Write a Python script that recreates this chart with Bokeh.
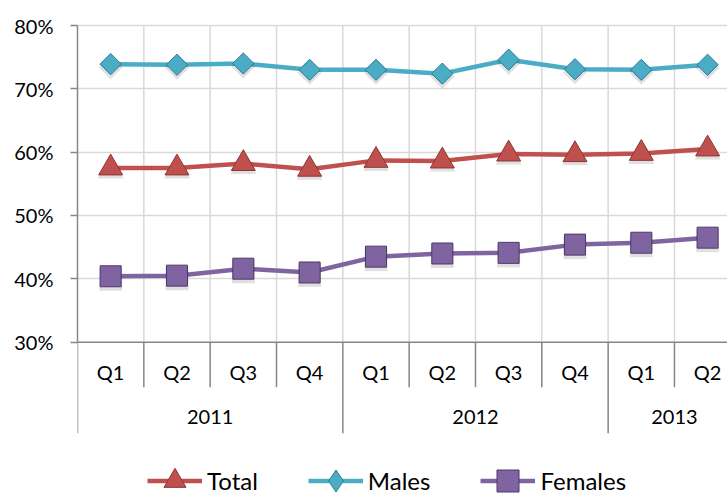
import numpy as np
from bokeh.plotting import figure
from bokeh.models import (Range1d, FixedTicker, PrintfTickFormatter, Span,
                          Legend, LegendItem, ColumnDataSource)
from bokeh.core.properties import value
from bokeh.embed import file_html
from bokeh.resources import INLINE

# ---------------- data ----------------
quarters = ["Q1", "Q2", "Q3", "Q4", "Q1", "Q2", "Q3", "Q4", "Q1", "Q2"]
years = ["2011", "2011", "2011", "2011", "2012", "2012", "2012", "2012", "2013", "2013"]
total = [57.5, 57.5, 58.2, 57.3, 58.7, 58.6, 59.7, 59.6, 59.8, 60.5]
males = [73.9, 73.8, 74.0, 73.0, 73.0, 72.4, 74.6, 73.1, 73.0, 73.8]
females = [40.4, 40.5, 41.6, 41.0, 43.5, 44.0, 44.1, 45.4, 45.7, 46.5]
y_ticks = [30, 40, 50, 60, 70, 80]

# ---------------- layout constants ----------------
W, H = 727, 496
LEFT = 77
PX_Y = 6.333          # pixels per percentage point
PX_X = 66.33          # pixels per category
TOP_GAP = 25          # pixels from top of frame to the 80% line
y_hi = y_ticks[-1] + TOP_GAP / PX_Y
y_lo = y_ticks[-1] - (H - TOP_GAP) / PX_Y
x_hi = (W - LEFT) / PX_X
base = y_ticks[0]


def below(px):
    return base - px / PX_Y


n = len(quarters)
xs = np.arange(n) + 0.5

FONT = "Lato"
AXIS_COL = "#868686"
GRID_COL = "#d9d9d9"

p = figure(width=W, height=H, output_backend="svg", toolbar_location=None,
           x_range=Range1d(0, x_hi), y_range=Range1d(y_lo, y_hi),
           x_axis_location=None, min_border_left=LEFT, min_border_right=0,
           min_border_top=0, min_border_bottom=0)
p.outline_line_color = None
p.background_fill_color = "white"
p.border_fill_color = "white"
p.xgrid.visible = False

# y axis
ax = p.yaxis[0]
ax.ticker = FixedTicker(ticks=y_ticks)
ax.bounds = (y_ticks[0], y_ticks[-1])
ax.formatter = PrintfTickFormatter(format="%d%%")
ax.axis_line_color = AXIS_COL
ax.axis_line_width = 1.5
ax.major_tick_line_color = AXIS_COL
ax.major_tick_line_width = 1.5
ax.major_tick_out = 7
ax.major_tick_in = 0
ax.minor_tick_line_color = None
ax.major_label_standoff = 17
ax.major_label_text_font = FONT
ax.major_label_text_font_size = "20px"
ax.major_label_text_color = "black"

p.ygrid.ticker = FixedTicker(ticks=y_ticks[1:])
p.ygrid.grid_line_color = GRID_COL
p.ygrid.grid_line_width = 1.5

# vertical gridlines at category boundaries
bounds = np.arange(1, n + 1)
p.segment(x0=bounds, y0=y_ticks[0], x1=bounds, y1=y_ticks[-1],
          line_color=GRID_COL, line_width=1.5)

# x axis line at base
p.add_layout(Span(location=base, dimension="width", line_color=AXIS_COL, line_width=1.5))

# category table separators
short_b, long_b = [], []
for b in range(0, n + 1):
    if b == 0 or b == n or years[b - 1] != years[b]:
        long_b.append(b)
    else:
        short_b.append(b)
p.segment(x0=short_b, y0=base, x1=short_b, y1=below(45), line_color=AXIS_COL, line_width=1.5)
p.segment(x0=long_b, y0=base, x1=long_b, y1=below(91), line_color=AXIS_COL, line_width=1.5)

# quarter labels
p.text(x=xs, y=[below(30)] * n, text=quarters, text_font=value(FONT),
       text_font_size=value("20px"), text_align="center", text_baseline="middle",
       text_color="black")

# year labels
yr_names, yr_centers = [], []
for y in dict.fromkeys(years):
    idx = [i for i, v in enumerate(years) if v == y]
    yr_names.append(y)
    yr_centers.append((idx[0] + idx[-1] + 1) / 2)
p.text(x=yr_centers, y=[below(75)] * len(yr_names), text=yr_names, text_font=value(FONT),
       text_font_size=value("20px"), text_align="center", text_baseline="middle",
       text_color="black")

# series: name, values, colour, edge, plot marker, size, angle, legend marker
series = [
    ("Total", total, "#c0504d", "#8a3633", "triangle", 24, 0.0, "triangle"),
    ("Males", males, "#4bacc6", "#2b7a90", "square", 15, np.pi / 4, "diamond"),
    ("Females", females, "#8064a2", "#4c3a66", "square", 21, 0.0, "square"),
]
items = []
shadow_dy = 3 / PX_Y
for name, vals, col, edge, marker, size, ang, lmarker in series:
    src = ColumnDataSource(dict(x=xs, y=vals, ys=np.array(vals) - shadow_dy))
    ln = p.line("x", "y", source=src, line_color=col, line_width=4.5)
    p.scatter("x", "ys", source=src, marker=marker, size=size + 2, angle=ang,
              fill_color="black", fill_alpha=0.12, line_color=None)
    sc = p.scatter("x", "y", source=src, marker=marker, size=size, angle=ang,
                   fill_color=col, line_color=edge, line_width=1)
    # legend-only glyph (zero size in the plot) so the key shows the right shape
    lg = p.scatter("x", "y", source=src, marker=lmarker, size=0,
                   fill_color=col, line_color=edge, line_width=1)
    items.append(LegendItem(label=name, renderers=[ln, lg]))

legend = Legend(items=items, orientation="horizontal", location=(70, -12),
                glyph_width=55, glyph_height=55, label_standoff=5, spacing=50,
                padding=0, margin=0, border_line_color=None, background_fill_alpha=0,
                label_text_font=FONT, label_text_font_size="24px",
                label_text_color="black", label_text_baseline="middle")
p.add_layout(legend)

open("out.html", "w").write(file_html(p, INLINE))
